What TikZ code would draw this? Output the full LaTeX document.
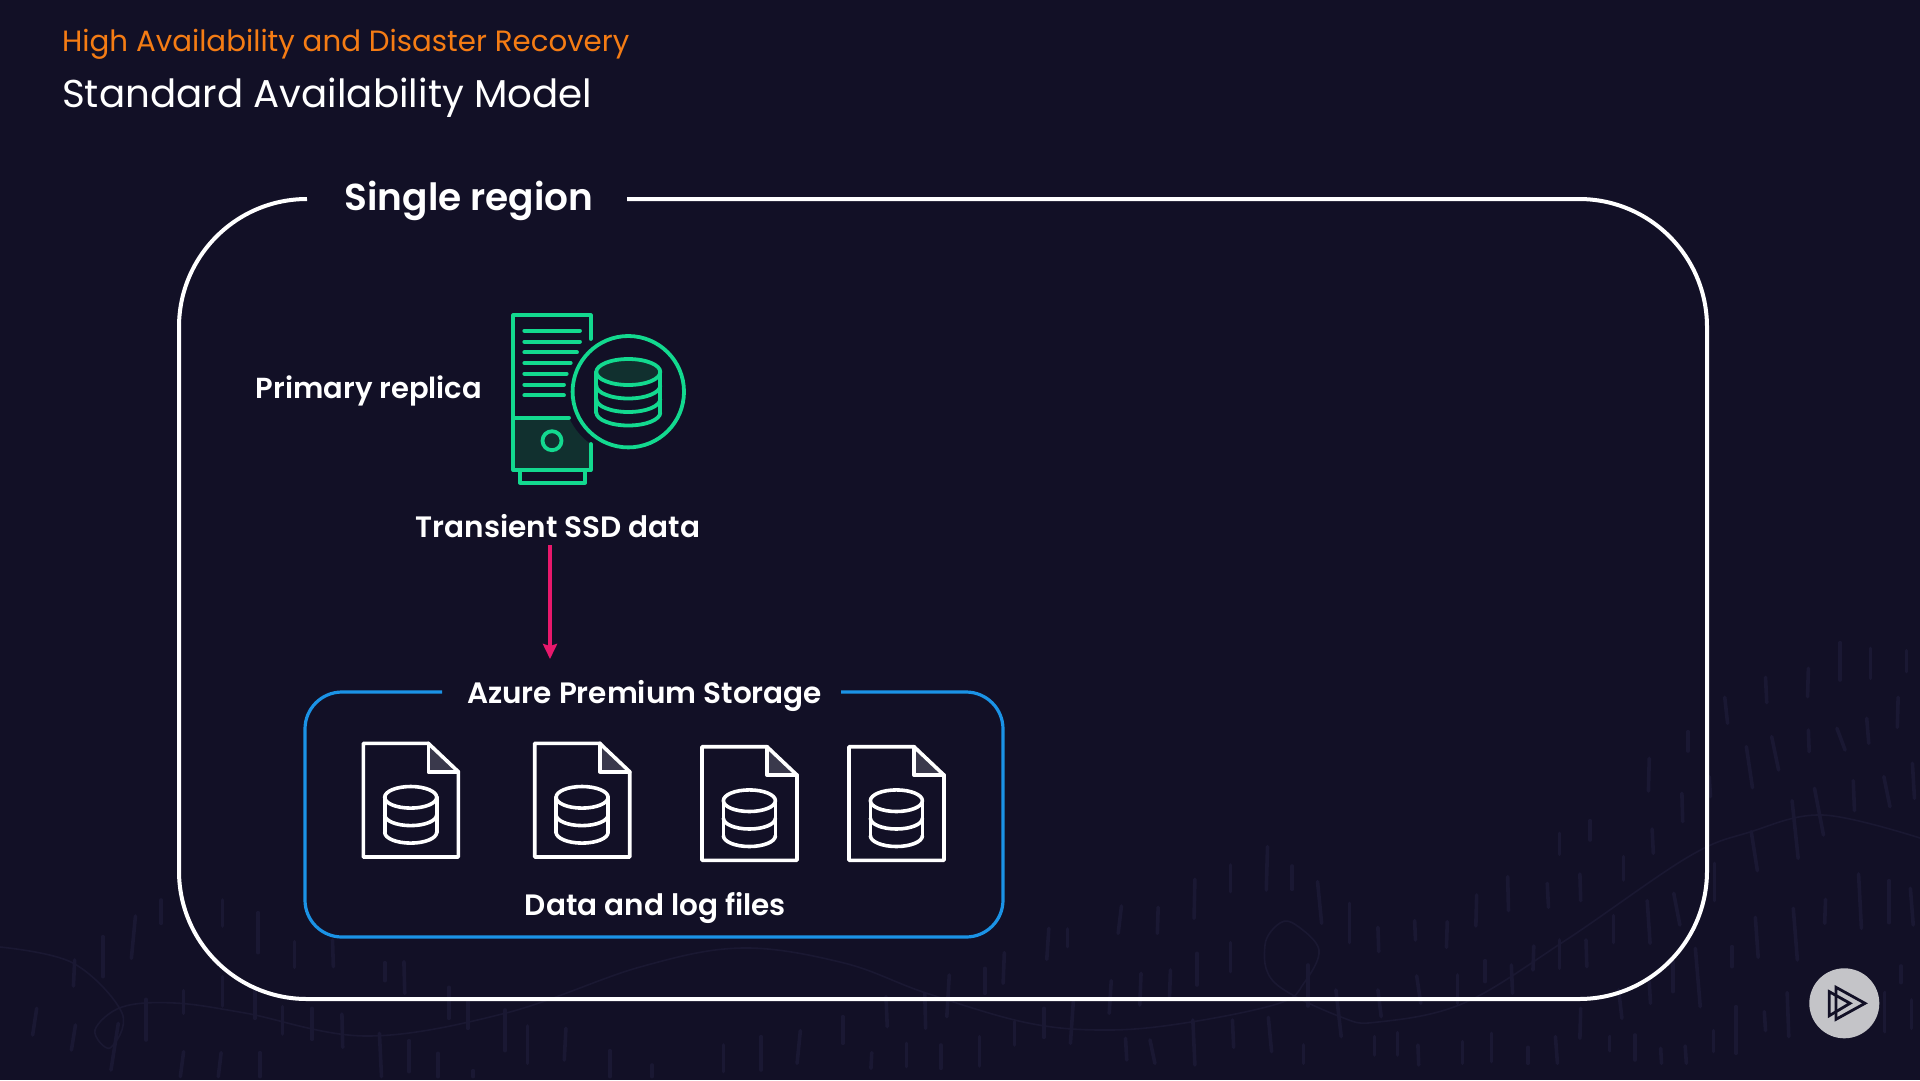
\documentclass[tikz,border=0pt]{standalone}
\usepackage{fontspec}
\setmainfont[BoldFont={Poppins SemiBold}]{Poppins}
\usetikzlibrary{arrows.meta}
\definecolor{bgc}{HTML}{121026}
\definecolor{texc}{HTML}{1A1833}
\definecolor{wavec}{HTML}{1A1832}
\definecolor{orangec}{HTML}{F57C14}
\definecolor{greenc}{HTML}{13D98F}
\definecolor{greendark}{HTML}{11302F}
\definecolor{bluec}{HTML}{1B93E6}
\definecolor{pinkc}{HTML}{E8186C}
\definecolor{foldc}{HTML}{3A394C}
\definecolor{playc}{HTML}{C4C4C8}
\tikzset{
  dashmark/.style={draw=texc,line width=3.6pt,line cap=round},
  labeltext/.style={text=white,font=\bfseries\fontsize{29.5}{34}\selectfont,inner sep=0pt,anchor=center},
  servericon/.style={draw=greenc,line width=3.8pt,line cap=round,line join=round},
  fileicon/.style={draw=white,line width=3.6pt,line join=round,line cap=round},
}
\newcommand{\dbstack}[6]{% cx cy rx ry step n
  \draw (#1,#2) ellipse [x radius=#3pt,y radius=#4pt];
  \foreach \k in {1,...,#6}{
    \draw ({#1-#3},{#2+\k*#5}) arc[start angle=180,end angle=360,x radius=#3pt,y radius=#4pt];
  }
  \draw ({#1-#3},#2) -- ({#1-#3},{#2+#6*#5}) ({#1+#3},#2) -- ({#1+#3},{#2+#6*#5});
}
\newcommand{\fileglyph}[2]{%
  \begin{scope}[shift={(#1,#2)},fileicon]
    \fill[foldc] (65,0) -- (95,28.4) -- (65,28.4) -- cycle;
    \draw (0,0) -- (65,0) -- (95,28.4) -- (95,113.7) -- (0,113.7) -- cycle;
    \draw (65,0) -- (65,28.4) -- (95,28.4);
    \dbstack{47.4}{54}{26}{10.8}{17.5}{2}
  \end{scope}
}
\begin{document}
\begin{tikzpicture}[x=1pt,y=-1pt]
\fill[bgc] (0,0) rectangle (1920,1080);
\useasboundingbox (0,0) rectangle (1920,1080);
% background texture
\begin{scope}
\clip (0,0) rectangle (1920,1080);
\draw[wavec,line width=1.6pt] plot[smooth,tension=0.6] coordinates {(0,947)(73,963)(122,1013)(110,1048)(95,1030)(122,1007)(175,1003)(245,1013)(367,1036)(506,1013)(640,967)(742,948)(844,963)(926,993)(1028,1023)(1110,1030)(1191,1022)(1280,1003)(1304,983)(1319,950)(1296,925)(1280,923)(1265,945)(1275,983)(1341,1017)(1378,1022)(1464,1003)(1566,940)(1688,857)(1750,832)(1823,815)(1920,838)};
\begin{scope}[shift={(0,880)},x=0.408pt,y=-0.3333pt]
\foreach \a/\b/\c/\d in {395/60/395/130,332/108/322/235,545/60/545/138,633/98/633/218,252/170/252/290,183/240/180/318,722/185/722/262,815/180/817/260,943/248/943/302,990/245/992/340,545/290/545/378,450/332/450/400,625/330/625/415,358/358/358/480,90/385/80/465,185/435/175/510,290/430/272/570,692/380/692/462,765/385/765/478,838/402/840/502,930/460/935/590,1003/482/1003/575,1100/322/1100/415,1147/365/1147/445,1238/390/1238/512,1293/438/1293/550,1387/445/1383/540,1073/520/1073/590,1495/512/1495/590,450/515/442/590,542/518/535/590,637/518/637/590,1160/572/1160/590}
  {\draw[dashmark] (\a,\b) -- (\c,\d);}
\end{scope}
\begin{scope}[shift={(640,830)},x=0.408pt,y=-0.3333pt]
\foreach \a/\b/\c/\d in {1447/105/1447/185,1538/50/1535/180,1360/148/1358/265,1180/228/1172/310,1270/232/1268/310,1002/295/997/388,1048/297/1048/350,893/368/890/460,1365/370/1365/465,1447/338/1447/425,845/415/845/490,758/435/752/560,1155/452/1150/550,1228/430/1225/525,1300/420/1298/500,603/500/606/590,698/490/700/595,497/560/497/640,393/602/385/700,297/620/297/720,205/645/205/725,30/705/30/740,568/668/566/715,653/640/653/710,737/645/737/715,832/620/832/708,918/575/918/645,990/535/990/622,1062/515/1055/640,1190/625/1193/690,1250/630/1262/700,1355/570/1360/705,1452/570/1455/652,1540/562/1548/665}
  {\draw[dashmark] (\a,\b) -- (\c,\d);}
\end{scope}
\begin{scope}[shift={(1280,620)},x=0.408pt,y=-0.3333pt]
\foreach \a/\b/\c/\d in {1373/68/1373/180,1447/85/1447/175,1535/92/1535/155,1295/145/1293/230,1190/172/1193/248,1090/232/1097/310,1515/232/1513/322,1438/295/1443/370,1295/330/1297/395,1365/325/1385/390,1205/350/1222/450,1143/380/1158/503,1000/335/1000/393,905/415/903/513,1052/470/1055/530,1550/430/1555/535,1405/482/1408/572,1480/470/1495/560,1310/505/1332/645,1255/542/1270/715,985/520/987/605,1155/635/1170/752,912/627/915/700,760/602/760/660,685/640/685/703,842/710/842/780,735/762/737/842,558/770/560/872,655/790/658/862,30/738/30/808,92/785/102/910,482/825/480/918,170/850/170/968,330/902/332/960,410/905/408/982,240/922/242/995,900/842/907/970,965/820/980/915,817/887/817/968,1065/730/1065/842,1418/762/1425/925,1493/782/1493/908,1545/805/1552/915,1337/838/1335/910,1165/892/1172/1012,1258/865/1268/1020,1108/980/1108/1040,750/960/752/1040,685/960/685/1045,622/978/620/1050,1018/985/1030/1160,963/1025/963/1115,503/1022/503/1085,567/1035/570/1120,435/1065/435/1150,335/1068/345/1150,68/1035/68/1158,137/1110/150/1250,240/1110/248/1190,905/1085/908/1150,830/1110/838/1195,737/1165/735/1255,1118/1160/1118/1300,1187/1175/1190/1232,1243/1118/1247/1250,1062/1232/1062/1295,1522/1038/1522/1088,1482/1118/1482/1235,1548/1140/1548/1225,232/1250/232/1305,288/1238/288/1305,338/1275/340/1335,447/1265/447/1330,518/1240/518/1325,608/1282/608/1330,675/1250/680/1330,808/1250/808/1292,870/1245/870/1320,933/1285/935/1330,993/1278/996/1330,58/1275/58/1330}
  {\draw[dashmark] (\a,\b) -- (\c,\d);}
\end{scope}
\end{scope}
% titles
\node[anchor=base west,inner sep=0pt,text=orangec,font=\fontsize{29.3}{34}\selectfont] (kicker) at (62,51) {High Availability and Disaster Recovery};
\node[anchor=base west,inner sep=0pt,text=white,font=\fontsize{38.8}{46}\selectfont] (title) at (62,107) {Standard Availability Model};
% region frame
\draw[white,line width=4pt,rounded corners=128pt] (307,199) -- (179,199) -- (179,999) -- (1707,999) -- (1707,199) -- (627,199);
\node[labeltext,font=\bfseries\fontsize{37.5}{44}\selectfont] (region) at (469,201) {Single region};
% server icon
\fill[greendark] (514,418) -- (569,418) .. controls (575,430) and (582,438) .. (590.7,444) -- (590.7,470) -- (514,470) -- cycle;
\fill[greendark] (628,372) ellipse [x radius=32pt,y radius=13pt];
\begin{scope}[servericon]
\draw (590.7,339) -- (590.7,315.3) -- (513.3,315.3) -- (513.3,470) -- (590.7,470) -- (590.7,444);
\draw (524.3,330.7) -- (580,330.7) (524.3,341.7) -- (580,341.7) (524.3,352.3) -- (577,352.3) (524.3,363) -- (570.7,363) (524.3,373.7) -- (566.7,373.7) (524.3,384.7) -- (564,384.7) (524.3,395.3) -- (564,395.3);
\draw (513.3,417.7) -- (569,417.7);
\draw (552,440.7) circle[radius=9.5pt];
\draw (520,470) -- (520,482.7) -- (585,482.7) -- (585,470);
\draw (628.3,391.7) circle[radius=55.7pt];
\dbstack{628.3}{372}{32}{13}{13.5}{3}
\end{scope}
\node[labeltext,font=\bfseries\fontsize{29}{34}\selectfont] (primary) at (369,391) {Primary replica};
\node[labeltext] (transient) at (558,526) {Transient SSD data};
% storage box
\draw[bluec,line width=3.2pt,rounded corners=37pt] (442,692) -- (305,692) -- (305,937) -- (1003,937) -- (1003,692) -- (841,692);
\node[labeltext] (azure) at (644.5,696) {Azure Premium Storage};
\fileglyph{363.3}{743.3}
\fileglyph{534.7}{743.3}
\fileglyph{702}{746.7}
\fileglyph{849}{746.7}
\node[labeltext] (datalog) at (655.5,908) {Data and log files};
% connector
\coordinate (arrowfrom) at (550,545);
\coordinate (arrowto) at (550,659);
\draw[pinkc,line width=3.6pt,-{Stealth[length=15pt,width=14pt,inset=2pt]}] (arrowfrom) -- (arrowto);
% play badge
\fill[playc] (1844.3,1003.3) circle[radius=35pt];
\draw[bgc,line width=2.8pt,line join=miter] (1836,987.3) -- (1865,1003.3) -- (1836,1019.3) -- cycle;
\draw[bgc,line width=2.8pt,line join=miter] (1829.3,991.7) -- (1850,1003.3) -- (1829.3,1015.7) -- cycle;
\end{tikzpicture}
\end{document}
